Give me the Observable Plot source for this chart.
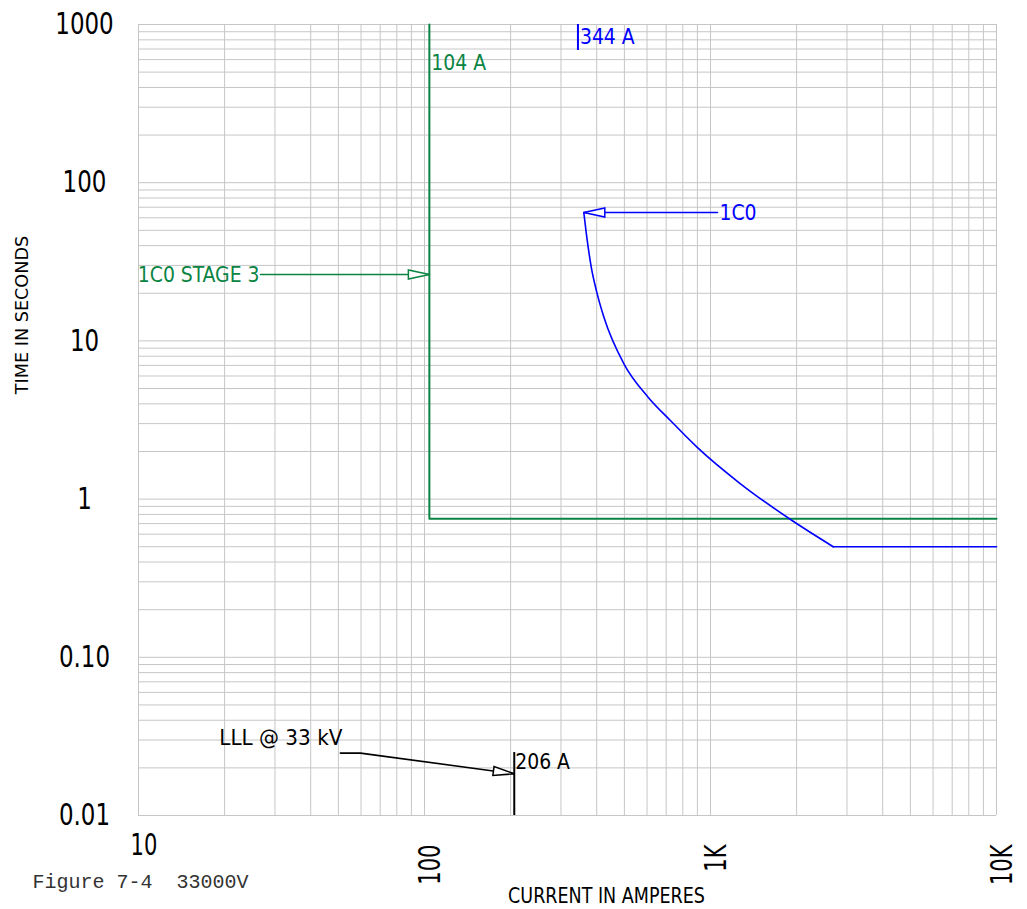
<!DOCTYPE html>
<html><head><meta charset="utf-8">
<script src="https://cdn.jsdelivr.net/npm/d3@7"></script>
<script src="https://cdn.jsdelivr.net/npm/@observablehq/plot@0.6"></script>
<style>body{margin:0;background:#fff}</style>
</head><body><div id="chart"></div>
<script>
// ---- data ----
const xTicks = [10, 100, 1000, 10000];
const xTickLabels = ["10", "100", "1K", "10K"];
const yTicks = [1000, 100, 10, 1, 0.1, 0.01];
const yTickLabels = ["1000", "100", "10", "1", "0.10", "0.01"];

// 1C0 (blue) inverse-time curve
const curveAmps = [360.6, 368, 383, 399, 424, 498, 605, 724, 897, 1273, 1905, 2686];
const curveSecs = [64.8, 47.7, 29.2, 20.8, 14.1, 7.16, 4.41, 3.14, 2.13, 1.25, 0.743, 0.50];
// 1C0 (blue) instantaneous segment
const instAmps = [2686, 10000];
const instSecs = [0.50, 0.50];
// 1C0 STAGE 3 (green) definite time
const stage3Amps = [104, 104, 10000];
const stage3Secs = [1000, 0.75, 0.75];
// fault current tick
const faultAmps = 206;
const faultSecs = [0.01, 0.025];
// pickup tick for 1C0
const pickupAmps = 344;
const pickupSecs = [1000, 685];
// annotation leaders
const stage3ArrowAmps = [26.7, 104];
const stage3ArrowSecs = [26.3, 26.3];
const c0ArrowAmps = [1058, 360.6];
const c0ArrowSecs = [64.8, 64.8];
const lllArrowAmps = [50.8, 59.7, 206];
const lllArrowSecs = [0.0248, 0.0248, 0.01835];

const GREEN = "#0a8443";
const BLUE = "#0000ff";
const SANS = '"Liberation Sans Narrow", "DejaVu Sans Condensed", "Arial Narrow", sans-serif';
const MONO = '"Liberation Mono", "DejaVu Sans Mono", monospace';

const pts = (xs, ys) => xs.map((x, i) => ({x, y: ys[i]}));

const gridXVals = d3.scaleLog().domain([10, 10000]).ticks();
const gridYVals = d3.scaleLog().domain([0.01, 1000]).ticks();

const svg = Plot.plot({
  width: 1027,
  height: 909,
  marginLeft: 138,
  marginRight: 31,
  marginTop: 24,
  marginBottom: 94,
  style: {background: "white", fontFamily: SANS},
  x: {type: "log", domain: [10, 10000], axis: null},
  y: {type: "log", domain: [0.01, 1000], axis: null},
  marks: [
    Plot.gridX(gridXVals, {stroke: "#c6c6c6", strokeOpacity: 1, strokeWidth: 1}),
    Plot.gridY(gridYVals, {stroke: "#c6c6c6", strokeOpacity: 1, strokeWidth: 1}),
    // curves
    Plot.line(pts(stage3Amps, stage3Secs), {x: "x", y: "y", stroke: GREEN, strokeWidth: 2}),
    Plot.line(pts(curveAmps, curveSecs), {x: "x", y: "y", stroke: BLUE, strokeWidth: 1.6, curve: "monotone-x"}),
    Plot.line(pts(instAmps, instSecs), {x: "x", y: "y", stroke: BLUE, strokeWidth: 1.6}),
    // ticks
    Plot.ruleX([pickupAmps], {y1: pickupSecs[0], y2: pickupSecs[1], stroke: BLUE, strokeWidth: 2}),
    Plot.ruleX([faultAmps], {y1: faultSecs[0], y2: faultSecs[1], stroke: "black", strokeWidth: 2}),
    // arrows
    Plot.line(pts(stage3ArrowAmps, stage3ArrowSecs), {x: "x", y: "y", stroke: GREEN, strokeWidth: 1.6, markerEnd: "arrow"}),
    Plot.line(pts(c0ArrowAmps, c0ArrowSecs), {x: "x", y: "y", stroke: BLUE, strokeWidth: 1.6, markerEnd: "arrow"}),
    Plot.line(pts(lllArrowAmps, lllArrowSecs), {x: "x", y: "y", stroke: "black", strokeWidth: 1.6, markerEnd: "arrow"}),
    // annotation labels
    Plot.text([{x: 104, y: 575, t: "104 A"}], {x: "x", y: "y", text: "t", fill: GREEN, fontSize: 22, textAnchor: "start", dx: 2, fontFamily: SANS, ariaDescription: "note"}),
    Plot.text([{x: 344, y: 834, t: "344 A"}], {x: "x", y: "y", text: "t", fill: BLUE, fontSize: 22, textAnchor: "start", dx: 2, fontFamily: SANS, ariaDescription: "note"}),
    Plot.text([{x: 206, y: 0.0219, t: "206 A"}], {x: "x", y: "y", text: "t", fill: "black", fontSize: 22, textAnchor: "start", dx: 1, fontFamily: SANS, ariaDescription: "note"}),
    Plot.text([{x: 26.7, y: 26.3, t: "1C0 STAGE 3"}], {x: "x", y: "y", text: "t", fill: GREEN, fontSize: 22, textAnchor: "end", dx: -1, fontFamily: SANS, ariaDescription: "note"}),
    Plot.text([{x: 1058, y: 64.8, t: "1C0"}], {x: "x", y: "y", text: "t", fill: BLUE, fontSize: 22, textAnchor: "start", dx: 2, fontFamily: SANS, ariaDescription: "note"}),
    Plot.text([{x: 50.8, y: 0.0307, t: "LLL @ 33 kV"}], {x: "x", y: "y", text: "t", fill: "black", fontSize: 22, textAnchor: "end", dx: 2, fontFamily: SANS, ariaDescription: "note-wide"}),
    // tick labels
    Plot.text(yTicks, {y: d => d, text: (d, i) => yTickLabels[i], frameAnchor: "left", dx: -54, textAnchor: "middle", fontSize: 30, fill: "black", fontFamily: SANS, ariaDescription: "ytick"}),
    Plot.text(xTicks.slice(0, 1), {x: d => d, text: (d, i) => xTickLabels[i], frameAnchor: "bottom", dx: 5.5, dy: 39, textAnchor: "middle", fontSize: 30, fill: "black", fontFamily: SANS, ariaDescription: "xtick"}),
    Plot.text(xTicks.slice(1), {x: d => d, text: (d, i) => xTickLabels[i + 1], frameAnchor: "bottom", dx: 15, dy: 29, rotate: -90, textAnchor: "end", fontSize: 30, fill: "black", fontFamily: SANS, ariaDescription: "xtick"}),
    // axis titles
    Plot.text(["TIME IN SECONDS"], {frameAnchor: "left", dx: -116, dy: -105, rotate: -90, textAnchor: "middle", fontSize: 17.5, fill: "black", fontFamily: SANS, ariaDescription: "ytitle"}),
    Plot.text(["CURRENT IN AMPERES"], {frameAnchor: "bottom", dx: 39, dy: 87, textAnchor: "middle", fontSize: 20.5, fill: "black", fontFamily: SANS, ariaDescription: "xtitle"}),
    // caption
    Plot.text(["Figure 7-4  33000V"], {frameAnchor: "bottom-left", dx: -106, dy: 72, textAnchor: "start", fontSize: 20, fill: "#333", fontFamily: MONO})
  ]
});

// open-triangle arrowheads
svg.querySelectorAll("marker").forEach(m => {
  m.setAttribute("viewBox", "-24 -7 26 14");
  m.setAttribute("markerUnits", "userSpaceOnUse");
  m.setAttribute("markerWidth", 26);
  m.setAttribute("markerHeight", 14);
  m.setAttribute("refX", 0);
  m.setAttribute("refY", 0);
  m.setAttribute("fill", "white");
  m.setAttribute("stroke-width", 1.5);
  m.setAttribute("stroke-linejoin", "miter");
  const p = m.querySelector("path");
  if (p) p.setAttribute("d", "M0,0L-21,-4.5L-21,4.5Z");
});

document.getElementById("chart").appendChild(svg);

// condense text horizontally to mimic the narrow plotter font
function squeeze(label, factor) {
  svg.querySelectorAll(`[aria-description="${label}"] text`).forEach(t => {
    const len = t.getComputedTextLength();
    if (len > 0) {
      t.setAttribute("textLength", (len * factor).toFixed(1));
      t.setAttribute("lengthAdjust", "spacingAndGlyphs");
    }
  });
}
squeeze("ytick", 0.85);
squeeze("xtick", 0.78);
squeeze("note", 0.95);
squeeze("note-wide", 1.01);
squeeze("ytitle", 1.12);
squeeze("xtitle", 0.95);
</script>
</body></html>
